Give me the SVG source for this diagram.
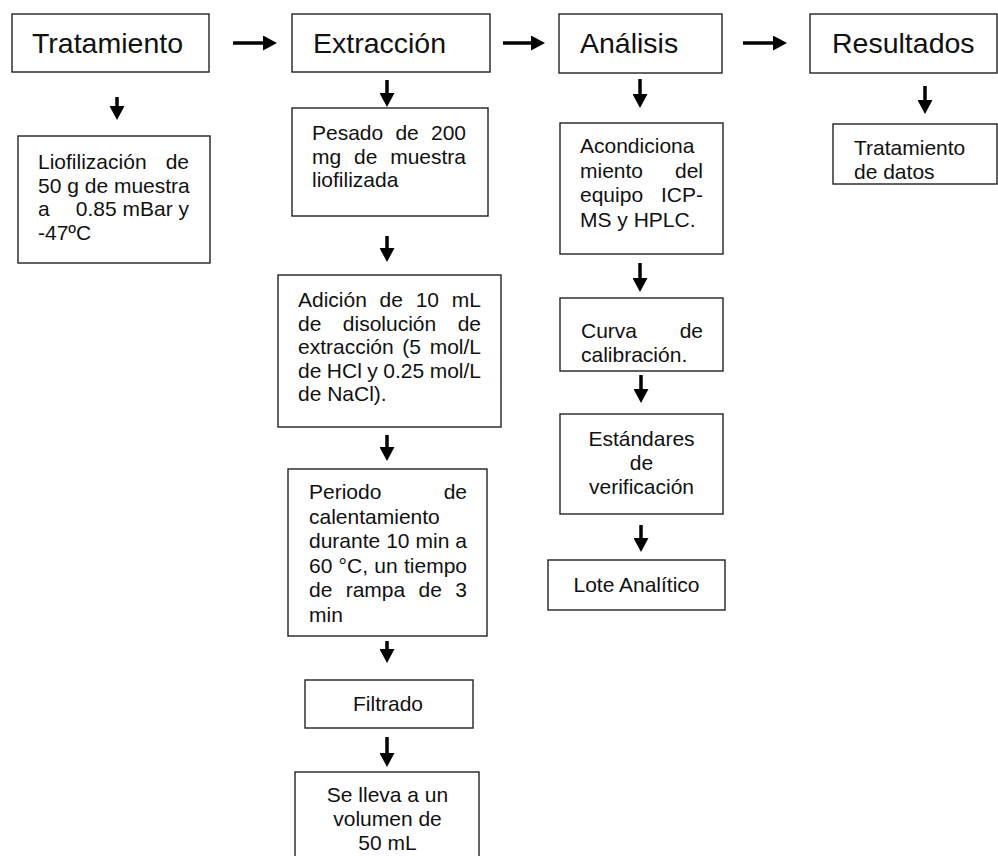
<svg xmlns="http://www.w3.org/2000/svg" width="998" height="856" viewBox="0 0 998 856">
  <style>
    .box { fill: #fff; stroke: #222; stroke-width: 1.4; }
    .h { font-family: "Liberation Sans", Arial, sans-serif; font-size: 28.5px; fill: #111; }
    .t { font-family: "Liberation Sans", Arial, sans-serif; font-size: 21px; fill: #111; }
    .e { text-anchor: end; }
    .m { text-anchor: middle; }
    .arrow { stroke: #000; stroke-width: 3.5; fill: none; marker-end: url(#head); }
  </style>
  <defs>
    <marker id="head" markerUnits="userSpaceOnUse" markerWidth="15" markerHeight="15" refX="1" refY="7.5" orient="auto">
      <path d="M0,0 L14,7.5 L0,15 Z" fill="#000"/>
    </marker>
  </defs>
  <rect width="998" height="856" fill="#fff"/>

  <!-- Stage headers -->
  <g id="n-tratamiento">
    <rect class="box" x="12" y="14" width="197" height="58"/>
    <text class="h" x="32" y="53">Tratamiento</text>
  </g>
  <g id="n-extraccion">
    <rect class="box" x="292" y="14" width="198" height="58"/>
    <text class="h" x="313" y="53">Extracción</text>
  </g>
  <g id="n-analisis">
    <rect class="box" x="559" y="14" width="163" height="59"/>
    <text class="h" x="580" y="53">Análisis</text>
  </g>
  <g id="n-resultados">
    <rect class="box" x="810" y="14" width="187" height="59"/>
    <text class="h" x="832" y="53">Resultados</text>
  </g>

  <!-- Tratamiento column -->
  <g id="n-liofilizacion">
    <rect class="box" x="18" y="136" width="192" height="127"/>
    <text class="t" x="38" y="169">Liofilización</text>
    <text class="t e" x="189" y="169">de</text>
    <text class="t" x="38" y="192.7">50 g de muestra</text>
    <text class="t" x="38" y="216.4">a</text>
    <text class="t e" x="189" y="216.4">0.85 mBar y</text>
    <text class="t" x="38" y="240">-47ºC</text>
  </g>

  <!-- Extracción column -->
  <g id="n-pesado">
    <rect class="box" x="292" y="108" width="196" height="108"/>
    <text class="t" y="140"><tspan x="312">Pesado</tspan><tspan x="395.4">de</tspan></text>
    <text class="t e" x="466" y="140">200</text>
    <text class="t" y="163.7"><tspan x="312">mg</tspan><tspan x="354">de</tspan></text>
    <text class="t e" x="466" y="163.7">muestra</text>
    <text class="t" x="312" y="187.4">liofilizada</text>
  </g>
  <g id="n-adicion">
    <rect class="box" x="278" y="275" width="223" height="152"/>
    <text class="t" y="307"><tspan x="298">Adición</tspan><tspan x="379.6">de</tspan><tspan x="415.7">10</tspan></text>
    <text class="t e" x="481" y="307">mL</text>
    <text class="t" y="330.5"><tspan x="298">de</tspan><tspan x="342.8">disolución</tspan></text>
    <text class="t e" x="481" y="330.5">de</text>
    <text class="t" y="354"><tspan x="298">extracción</tspan><tspan x="402.3">(5</tspan></text>
    <text class="t e" x="481" y="354">mol/L</text>
    <text class="t" y="377.5"><tspan x="298">de</tspan><tspan x="326.8">HCl</tspan><tspan x="367.3">y</tspan><tspan x="383.3">0.25</tspan></text>
    <text class="t e" x="481" y="377.5">mol/L</text>
    <text class="t" x="298" y="401">de NaCl).</text>
  </g>
  <g id="n-periodo">
    <rect class="box" x="288" y="469" width="199" height="167"/>
    <text class="t" x="309" y="499">Periodo</text>
    <text class="t e" x="467" y="499">de</text>
    <text class="t" x="309" y="523.5">calentamiento</text>
    <text class="t" y="548"><tspan x="309">durante</tspan><tspan x="386.2">10</tspan><tspan x="415.5">min</tspan></text>
    <text class="t e" x="467" y="548">a</text>
    <text class="t" y="572.5"><tspan x="309">60</tspan><tspan x="338.6">°C,</tspan><tspan x="374.3">un</tspan></text>
    <text class="t e" x="467" y="572.5">tiempo</text>
    <text class="t" y="597"><tspan x="309">de</tspan><tspan x="345.7">rampa</tspan><tspan x="418.6">de</tspan></text>
    <text class="t e" x="467" y="597">3</text>
    <text class="t" x="309" y="621.5">min</text>
  </g>
  <g id="n-filtrado">
    <rect class="box" x="305" y="680" width="168" height="48"/>
    <text class="t m" x="388" y="711">Filtrado</text>
  </g>
  <g id="n-volumen">
    <rect class="box" x="295" y="772" width="184" height="90"/>
    <text class="t m" x="387.5" y="802">Se lleva a un</text>
    <text class="t m" x="387.5" y="826">volumen de</text>
    <text class="t m" x="387.5" y="850">50 mL</text>
  </g>

  <!-- Análisis column -->
  <g id="n-acondicionamiento">
    <rect class="box" x="560" y="123" width="163" height="131"/>
    <text class="t" x="580" y="153">Acondiciona</text>
    <text class="t" x="580" y="177.5">miento</text>
    <text class="t e" x="703" y="177.5">del</text>
    <text class="t" x="580" y="202">equipo</text>
    <text class="t e" x="703" y="202">ICP-</text>
    <text class="t" x="580" y="226.5">MS y HPLC.</text>
  </g>
  <g id="n-curva">
    <rect class="box" x="560" y="298" width="163" height="73"/>
    <text class="t" x="581" y="338">Curva</text>
    <text class="t e" x="703" y="338">de</text>
    <text class="t" x="581" y="362">calibración.</text>
  </g>
  <g id="n-estandares">
    <rect class="box" x="560" y="414" width="163" height="100"/>
    <text class="t m" x="641.5" y="446">Estándares</text>
    <text class="t m" x="641.5" y="470">de</text>
    <text class="t m" x="641.5" y="494">verificación</text>
  </g>
  <g id="n-lote">
    <rect class="box" x="548" y="560" width="177" height="50"/>
    <text class="t m" x="636.5" y="592">Lote Analítico</text>
  </g>

  <!-- Resultados column -->
  <g id="n-datos">
    <rect class="box" x="833" y="124" width="164" height="60"/>
    <text class="t" x="854" y="155">Tratamiento</text>
    <text class="t" x="854" y="179">de datos</text>
  </g>

  <!-- Connectors: each line stops where its arrowhead begins -->
  <g id="connectors">
    <line class="arrow" x1="233" y1="43" x2="264" y2="43"/>
    <line class="arrow" x1="503" y1="43" x2="532" y2="43"/>
    <line class="arrow" x1="743" y1="43" x2="774" y2="43"/>

    <line class="arrow" x1="117" y1="97" x2="117" y2="107"/>
    <line class="arrow" x1="387" y1="80" x2="387" y2="94"/>
    <line class="arrow" x1="640" y1="79" x2="640" y2="95"/>
    <line class="arrow" x1="925" y1="86" x2="925" y2="101"/>

    <line class="arrow" x1="387" y1="236" x2="387" y2="249"/>
    <line class="arrow" x1="387" y1="435" x2="387" y2="448"/>
    <line class="arrow" x1="387" y1="641" x2="387" y2="650"/>
    <line class="arrow" x1="387" y1="737" x2="387" y2="754"/>

    <line class="arrow" x1="640" y1="263" x2="640" y2="279"/>
    <line class="arrow" x1="641" y1="375" x2="641" y2="390"/>
    <line class="arrow" x1="641" y1="525" x2="641" y2="539"/>
  </g>
</svg>
